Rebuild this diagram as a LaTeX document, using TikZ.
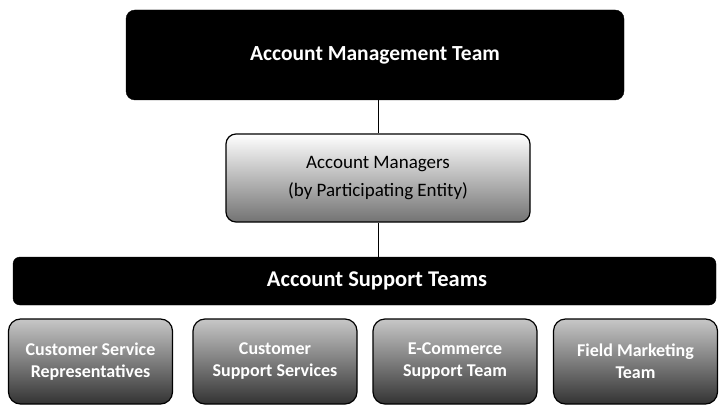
\documentclass[tikz,border=0pt]{standalone}
\usepackage{fontspec}
\setmainfont{Carlito}
\begin{document}
\begin{tikzpicture}[x=1pt,y=-1pt,
  darkbox/.style={draw=black, fill=black, rounded corners=9pt, inner sep=0pt},
  darktext/.style={text=white, font=\fontsize{21.5}{25}\selectfont\bfseries, inner sep=0pt},
  midbox/.style={draw=black, line width=1.2pt, rounded corners=10pt,
    top color=white, middle color=black!15, bottom color=black!55,
    align=center, font=\fontsize{19}{28}\selectfont, inner sep=0pt,
    minimum width=304pt, minimum height=88pt},
  teambox/.style={draw=black, line width=1.2pt, rounded corners=12pt,
    top color=black!22, middle color=black!45, bottom color=black!80,
    text=white, align=center, font=\fontsize{18}{22}\selectfont\bfseries,
    minimum width=164pt, minimum height=85pt, inner sep=0pt},
  link/.style={draw=black, line width=0.9pt}]
\useasboundingbox (0,0) rectangle (719,406);

\node[darkbox, darktext, minimum width=498pt, minimum height=90pt] (top) at (375,55) {Account Management Team};
\node[midbox] (mid) at (378,178) {Account Managers\\(by Participating Entity)};
\node[darkbox, rounded corners=7pt, minimum width=703pt, minimum height=48pt] (bar) at (364.5,281) {};
\node[darktext, font=\fontsize{22.5}{25}\selectfont\bfseries] (bartext) at (377,281) {Account Support Teams};

\node[teambox] (t1) at (90.5,361.5) {Customer Service\\Representatives};
\node[teambox] (t2) at (275,361.5) {Customer\\Support Services};
\node[teambox] (t3) at (455,361.5) {E-Commerce\\Support Team};
\node[teambox] (t4) at (635.5,361.5) {Field Marketing\\Team};

\draw[link] (mid.north |- top.south) -- (mid.north);
\draw[link] (mid.south) -- (mid.south |- bar.north);
\end{tikzpicture}
\end{document}
